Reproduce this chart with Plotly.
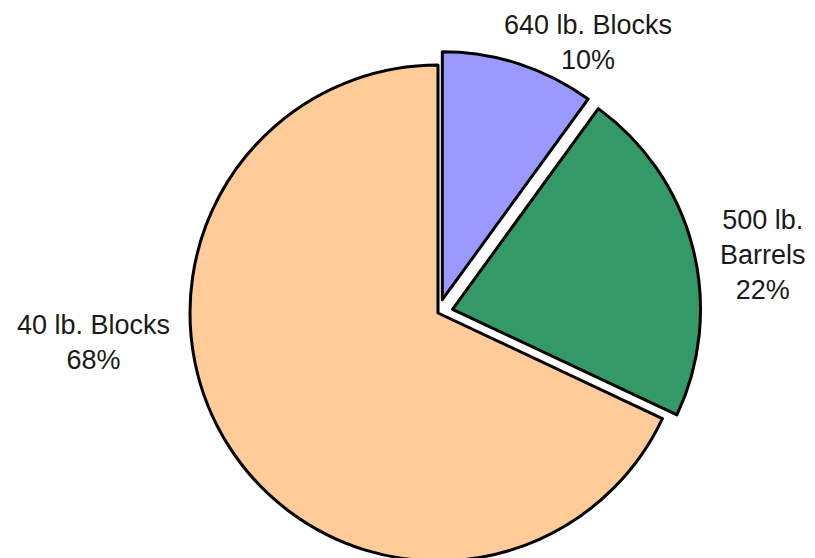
import math
import plotly.graph_objects as go

# slice data (clockwise from 12 o'clock)
labels = ["640 lb. Blocks", "500 lb. Barrels", "40 lb. Blocks"]
shares = [10, 22, 68]
label_lines = ["640 lb. Blocks", "500 lb.<br>Barrels", "40 lb. Blocks"]
colors = ["#9999FF", "#339966", "#FFCC99"]

W, H = 815, 558
# page body has an 8px margin, so figure px = page px - 8
cx, cy, r = 430, 305, 248          # pie centre / radius in px
explode = [14, 15, 0]              # px offset of each slice along its bisector
label_pos = [(580, 34), (755, 247), (85, 334)]  # label centres in px

fig = go.Figure()

total = sum(shares)
start = 0.0
for i, v in enumerate(shares):
    mid = (start + v / 2) / total * 2 * math.pi
    start += v
    px = cx + explode[i] * math.sin(mid)
    py = cy - explode[i] * math.cos(mid)
    dom_x = [max(0, (px - r - 20) / W), min(1, (px + r + 20) / W)]
    dom_y = [max(0, (H - py - r) / H), min(1, (H - py + r) / H)]
    fig.add_trace(go.Pie(
        labels=labels,
        values=shares,
        sort=False,
        direction="clockwise",
        rotation=0,
        textinfo="none",
        hoverinfo="label+percent",
        showlegend=False,
        marker=dict(
            colors=[c if j == i else "rgba(0,0,0,0)" for j, c in enumerate(colors)],
            line=dict(color="black", width=[3 if j == i else 0 for j in range(len(shares))]),
        ),
        domain=dict(x=dom_x, y=dom_y),
    ))

for i, v in enumerate(shares):
    lx, ly = label_pos[i]
    fig.add_annotation(
        x=lx / W, y=1 - ly / H, xref="paper", yref="paper",
        text=f"{label_lines[i]}<br>{v}%",
        showarrow=False, xanchor="center", yanchor="middle", align="center",
        font=dict(family="Liberation Sans, Arial", size=27, color="#1a1a1a"),
    )

fig.update_layout(
    width=W, height=H,
    margin=dict(l=0, r=0, t=0, b=0),
    paper_bgcolor="white",
    plot_bgcolor="white",
)

fig.write_html("out.html")
